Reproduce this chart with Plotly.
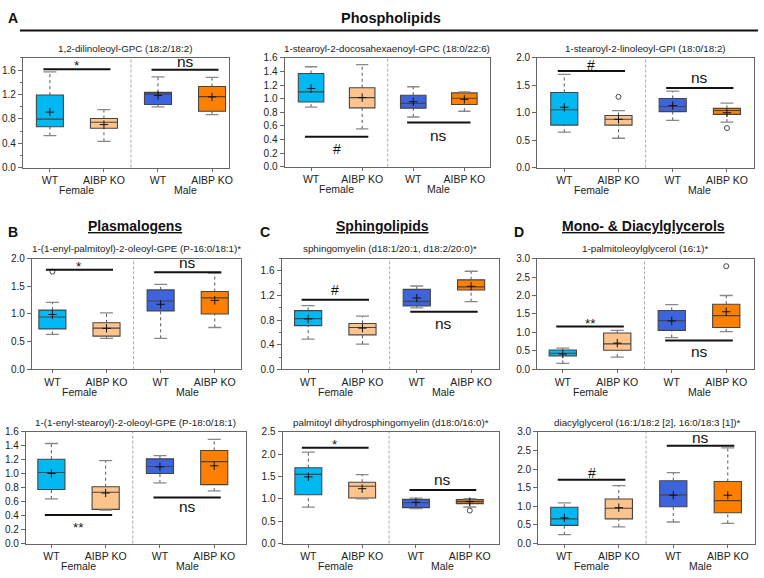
import plotly.graph_objects as go

W, H = 764, 578
FONT = "Liberation Sans, Arial, Helvetica, sans-serif"

# ---------------- data ----------------
groups = ["WT", "AIBP KO", "WT", "AIBP KO"]
sexes = ["Female", "Male"]

# Panel A1
a1_title = "1,2-dilinoleoyl-GPC (18:2/18:2)"
a1_upper = [1.57, 0.95, 1.49, 1.48]
a1_q3 = [1.19, 0.805, 1.235, 1.33]
a1_median = [0.795, 0.745, 1.21, 1.165]
a1_q1 = [0.67, 0.645, 1.035, 0.925]
a1_lower = [0.525, 0.43, 0.995, 0.87]
a1_mean = [0.91, 0.705, 1.185, 1.16]
a1_outliers = [[], [], [], []]
a1_sig_level = [1.615, 1.605]
a1_sig_label = ["*", "ns"]
a1_sig_text_y = [1.73, 1.70]

# Panel A2
a2_title = "1-stearoyl-2-docosahexaenoyl-GPC (18:0/22:6)"
a2_upper = [1.47, 1.50, 1.175, 1.10]
a2_q3 = [1.37, 1.16, 1.05, 1.085]
a2_median = [1.10, 1.015, 0.93, 1.005]
a2_q1 = [0.95, 0.865, 0.86, 0.915]
a2_lower = [0.875, 0.555, 0.73, 0.815]
a2_mean = [1.15, 1.015, 0.955, 0.99]
a2_outliers = [[], [], [], []]
a2_sig_level = [0.44, 0.65]
a2_sig_label = ["#", "ns"]
a2_sig_text_y = [0.26, 0.435]

# Panel A3
a3_title = "1-stearoyl-2-linoleoyl-GPI (18:0/18:2)"
a3_upper = [1.70, 1.04, 1.395, 1.175]
a3_q3 = [1.37, 0.95, 1.26, 1.08]
a3_median = [1.055, 0.88, 1.115, 1.04]
a3_q1 = [0.775, 0.775, 1.02, 0.97]
a3_lower = [0.645, 0.535, 0.86, 0.83]
a3_mean = [1.10, 0.88, 1.13, 1.00]
a3_outliers = [[], [1.29], [], [0.72]]
a3_sig_level = [1.76, 1.45]
a3_sig_label = ["#", "ns"]
a3_sig_text_y = [1.87, 1.61]

# Panel B1
b1_title = "1-(1-enyl-palmitoyl)-2-oleoyl-GPE (P-16:0/18:1)*"
b1_upper = [1.21, 1.02, 1.535, 1.74]
b1_q3 = [1.07, 0.84, 1.435, 1.405]
b1_median = [0.945, 0.745, 1.235, 1.29]
b1_q1 = [0.73, 0.60, 1.055, 1.0]
b1_lower = [0.63, 0.56, 0.56, 0.755]
b1_mean = [0.99, 0.74, 1.175, 1.245]
b1_outliers = [[1.765], [], [], []]
b1_sig_level = [1.80, 1.755]
b1_sig_label = ["*", "ns"]
b1_sig_text_y = [1.92, 1.89]

# Panel C1
c1_title = "sphingomyelin (d18:1/20:1, d18:2/20:0)*"
c1_upper = [1.035, 0.865, 1.355, 1.595]
c1_q3 = [0.955, 0.745, 1.30, 1.455]
c1_median = [0.825, 0.68, 1.105, 1.34]
c1_q1 = [0.71, 0.56, 1.03, 1.29]
c1_lower = [0.49, 0.41, 1.0, 1.10]
c1_mean = [0.82, 0.67, 1.16, 1.35]
c1_outliers = [[], [], [], []]
c1_sig_level = [1.13, 0.935]
c1_sig_label = ["#", "ns"]
c1_sig_text_y = [1.29, 0.72]

# Panel D1
d1_title = "1-palmitoleoylglycerol (16:1)*"
d1_upper = [0.575, 1.055, 1.755, 2.0]
d1_q3 = [0.525, 0.985, 1.595, 1.765]
d1_median = [0.435, 0.69, 1.32, 1.455]
d1_q1 = [0.365, 0.515, 1.055, 1.135]
d1_lower = [0.16, 0.33, 0.86, 1.02]
d1_mean = [0.415, 0.71, 1.31, 1.56]
d1_outliers = [[], [], [], [2.795]]
d1_sig_level = [1.16, 0.78]
d1_sig_label = ["**", "ns"]
d1_sig_text_y = [1.33, 0.44]

# Panel B2
b2_title = "1-(1-enyl-stearoyl)-2-oleoyl-GPE (P-18:0/18:1)"
b2_upper = [1.435, 1.19, 1.26, 1.495]
b2_q3 = [1.21, 0.815, 1.215, 1.335]
b2_median = [1.02, 0.735, 1.105, 1.175]
b2_q1 = [0.775, 0.49, 1.005, 0.845]
b2_lower = [0.64, 0.48, 0.87, 0.755]
b2_mean = [1.005, 0.725, 1.10, 1.115]
b2_outliers = [[], [], [], []]
b2_sig_level = [0.41, 0.66]
b2_sig_label = ["**", "ns"]
b2_sig_text_y = [0.27, 0.505]

# Panel C2
c2_title = "palmitoyl dihydrosphingomyelin (d18:0/16:0)*"
c2_upper = [2.05, 1.545, 1.02, 1.005]
c2_q3 = [1.70, 1.375, 0.99, 0.985]
c2_median = [1.55, 1.285, 0.915, 0.94]
c2_q1 = [1.095, 1.02, 0.805, 0.895]
c2_lower = [0.815, 1.0, 0.785, 0.82]
c2_mean = [1.495, 1.23, 0.925, 0.94]
c2_outliers = [[], [], [], [0.74]]
c2_sig_level = [2.145, 1.20]
c2_sig_label = ["*", "ns"]
c2_sig_text_y = [2.28, 1.38]

# Panel D2
d2_title = "diacylglycerol (16:1/18:2 [2], 16:0/18:3 [1])*"
d2_upper = [1.095, 1.56, 1.905, 2.57]
d2_q3 = [0.975, 1.20, 1.69, 1.67]
d2_median = [0.665, 0.95, 1.31, 1.155]
d2_q1 = [0.49, 0.665, 0.99, 0.83]
d2_lower = [0.24, 0.45, 0.58, 0.545]
d2_mean = [0.69, 0.965, 1.30, 1.30]
d2_outliers = [[], [], [], []]
d2_sig_level = [1.715, 2.63]
d2_sig_label = ["#", "ns"]
d2_sig_text_y = [1.90, 2.80]

panels = [
    (a1_title, a1_upper, a1_q3, a1_median, a1_q1, a1_lower, a1_mean, a1_outliers, a1_sig_level, a1_sig_label, a1_sig_text_y),
    (a2_title, a2_upper, a2_q3, a2_median, a2_q1, a2_lower, a2_mean, a2_outliers, a2_sig_level, a2_sig_label, a2_sig_text_y),
    (a3_title, a3_upper, a3_q3, a3_median, a3_q1, a3_lower, a3_mean, a3_outliers, a3_sig_level, a3_sig_label, a3_sig_text_y),
    (b1_title, b1_upper, b1_q3, b1_median, b1_q1, b1_lower, b1_mean, b1_outliers, b1_sig_level, b1_sig_label, b1_sig_text_y),
    (c1_title, c1_upper, c1_q3, c1_median, c1_q1, c1_lower, c1_mean, c1_outliers, c1_sig_level, c1_sig_label, c1_sig_text_y),
    (d1_title, d1_upper, d1_q3, d1_median, d1_q1, d1_lower, d1_mean, d1_outliers, d1_sig_level, d1_sig_label, d1_sig_text_y),
    (b2_title, b2_upper, b2_q3, b2_median, b2_q1, b2_lower, b2_mean, b2_outliers, b2_sig_level, b2_sig_label, b2_sig_text_y),
    (c2_title, c2_upper, c2_q3, c2_median, c2_q1, c2_lower, c2_mean, c2_outliers, c2_sig_level, c2_sig_label, c2_sig_text_y),
    (d2_title, d2_upper, d2_q3, d2_median, d2_q1, d2_lower, d2_mean, d2_outliers, d2_sig_level, d2_sig_label, d2_sig_text_y),
]

# ---------------- styling / layout ----------------
box_colors = ["#00B9F2", "#FCC38C", "#3D63DD", "#FF8000"]
# pixel frames: left, right, top, bottom
frames = [
    (23, 230, 53, 165), (286, 493, 53, 164), (540, 758, 53, 165),
    (32, 242, 258, 371), (283, 502, 258, 371), (540, 758, 258, 371),
    (26, 247, 435, 549), (284, 502, 435, 549), (541, 759, 435, 549),
]
xranges = [
    [-0.5, 3.31], [-0.52, 3.51], [-0.5, 3.5],
    [-0.38, 3.48], [-0.49, 3.52], [-0.47, 3.51],
    [-0.47, 3.58], [-0.48, 3.55], [-0.48, 3.5],
]
ytops = [1.8, 1.6, 2.0, 2.0, 1.8, 3.0, 1.6, 2.5, 3.0]
ydticks = [0.4, 0.2, 0.5, 0.5, 0.4, 0.5, 0.2, 0.5, 0.5]
yminor = [0.2, None, None, None, 0.2, None, None, None, None]

sig_sizes = {"ns": 15.5, "*": 13.5, "**": 13.5, "#": 14}
sig_shift = {"ns": 2, "*": -3, "**": -3, "#": 0}

fig = go.Figure()
layout = dict(
    width=W, height=H, margin=dict(l=0, r=0, t=0, b=0),
    paper_bgcolor="white", plot_bgcolor="white",
    font=dict(family=FONT, color="#222"),
    showlegend=False, annotations=[], shapes=[],
)

def px_x(p):
    return p / W

def px_y(p):
    return 1 - p / H

for k, (title, upper, q3, med, q1, lower, mean, outl, slev, slab, sty) in enumerate(panels):
    n = k + 1
    xa = "x" if n == 1 else f"x{n}"
    ya = "y" if n == 1 else f"y{n}"
    l, r, t, b = frames[k]
    for i in range(4):
        fig.add_trace(go.Box(
            x=[i], q1=[q1[i]], median=[med[i]], q3=[q3[i]],
            lowerfence=[q1[i]], upperfence=[q3[i]],
            width=0.5, whiskerwidth=0, boxpoints=False,
            fillcolor=box_colors[i], line=dict(color="#454545", width=1.1),
            xaxis=xa, yaxis=ya, hoverinfo="skip"))
        fig.add_trace(go.Scatter(
            x=[i, i, None, i, i], y=[lower[i], q1[i], None, q3[i], upper[i]],
            mode="lines", line=dict(color="#555", width=1, dash="dot"),
            xaxis=xa, yaxis=ya, hoverinfo="skip"))
        fig.add_trace(go.Scatter(
            x=[i - 0.12, i + 0.12, None, i - 0.12, i + 0.12],
            y=[upper[i], upper[i], None, lower[i], lower[i]],
            mode="lines", line=dict(color="#888", width=1.3),
            xaxis=xa, yaxis=ya, hoverinfo="skip"))
        fig.add_trace(go.Scatter(
            x=[i], y=[mean[i]], mode="markers",
            marker=dict(symbol="cross-thin", size=6, line=dict(color="#111", width=1)),
            xaxis=xa, yaxis=ya, hoverinfo="skip"))
        if outl[i]:
            fig.add_trace(go.Scatter(
                x=[i] * len(outl[i]), y=outl[i], mode="markers",
                marker=dict(symbol="circle-open", size=5, color="#444", line=dict(width=1)),
                xaxis=xa, yaxis=ya, hoverinfo="skip"))
    # significance bars
    for j, (lev, lab, ty) in enumerate(zip(slev, slab, sty)):
        a, bb = 2 * j, 2 * j + 1
        fig.add_trace(go.Scatter(
            x=[a - 0.12, bb + 0.12], y=[lev, lev], mode="lines",
            line=dict(color="#111", width=2), xaxis=xa, yaxis=ya, hoverinfo="skip"))
        layout["annotations"].append(dict(
            x=(a + bb) / 2, y=ty, xref=xa, yref=ya, text=lab, showarrow=False,
            font=dict(size=sig_sizes[lab], color="#111"), yanchor="middle",
            yshift=sig_shift[lab]))
    # separator
    layout["shapes"].append(dict(
        type="line", xref=xa, yref=f"{ya} domain", x0=1.5, x1=1.5, y0=0, y1=1,
        line=dict(color="#aaa", width=1, dash="3px,2px")))
    # axes
    xkey = "xaxis" if n == 1 else f"xaxis{n}"
    ykey = "yaxis" if n == 1 else f"yaxis{n}"
    layout[xkey] = dict(
        domain=[px_x(l), px_x(r)], range=xranges[k], anchor=ya,
        tickvals=[0, 1, 2, 3], ticktext=groups, ticks="outside", ticklen=3,
        tickcolor="#666", showline=True, mirror=True, linecolor="#666",
        linewidth=1, showgrid=False, zeroline=False, fixedrange=True,
        tickfont=dict(size=10.5, color="#222"))
    ydict = dict(
        domain=[px_y(b), px_y(t)], range=[0, ytops[k]], anchor=xa,
        dtick=ydticks[k], tick0=0, tickformat=".1f", ticks="outside", ticklen=4,
        tickcolor="#666", showline=True, mirror=True, linecolor="#666",
        linewidth=1, showgrid=False, zeroline=False, fixedrange=True,
        tickfont=dict(size=10, color="#222"))
    if yminor[k]:
        ydict["minor"] = dict(dtick=yminor[k], tick0=0, ticks="outside", ticklen=2, tickcolor="#666")
    layout[ykey] = ydict
    # subtitle
    layout["annotations"].append(dict(
        x=0.5, xref=f"{xa} domain", y=px_y(t - 10), yref="paper", text=title,
        showarrow=False, font=dict(size=9.8, color="#222"), yanchor="middle"))
    # sex labels
    for s, sx in enumerate(sexes):
        layout["annotations"].append(dict(
            x=0.5 + 2 * s, xref=xa, y=px_y(b + 23), yref="paper", text=sx,
            showarrow=False, font=dict(size=10.5, color="#222"), yanchor="middle"))

# section headers
headers = [
    ("<b>A</b>", 6, 12, 14, "left"),
    ("<b>Phospholipids</b>", 393, 12, 14.5, "center"),
    ("<b>B</b>", 6, 231, 14, "left"),
    ("<b><u>Plasmalogens</u></b>", 136, 225, 14, "center"),
    ("<b>C</b>", 259, 231, 14, "left"),
    ("<b><u>Sphingolipids</u></b>", 385, 225, 14, "center"),
    ("<b>D</b>", 515, 231, 14, "left"),
    ("<b><u>Mono- &amp; Diacylglycerols</u></b>", 647, 225, 14, "center"),
]
for txt, hx, hy, hs, anc in headers:
    layout["annotations"].append(dict(
        x=px_x(hx), y=px_y(hy), xref="paper", yref="paper", text=txt,
        showarrow=False, font=dict(size=hs, color="#111"),
        xanchor=anc, yanchor="middle"))
layout["shapes"].append(dict(
    type="line", xref="paper", yref="paper", x0=px_x(20), x1=px_x(762),
    y0=px_y(25), y1=px_y(25), line=dict(color="#111", width=2)))

fig.update_layout(**layout)
fig.write_html("out.html", config={"displayModeBar": False},
               post_script="document.body.style.margin='0px';document.body.style.overflow='hidden';")
